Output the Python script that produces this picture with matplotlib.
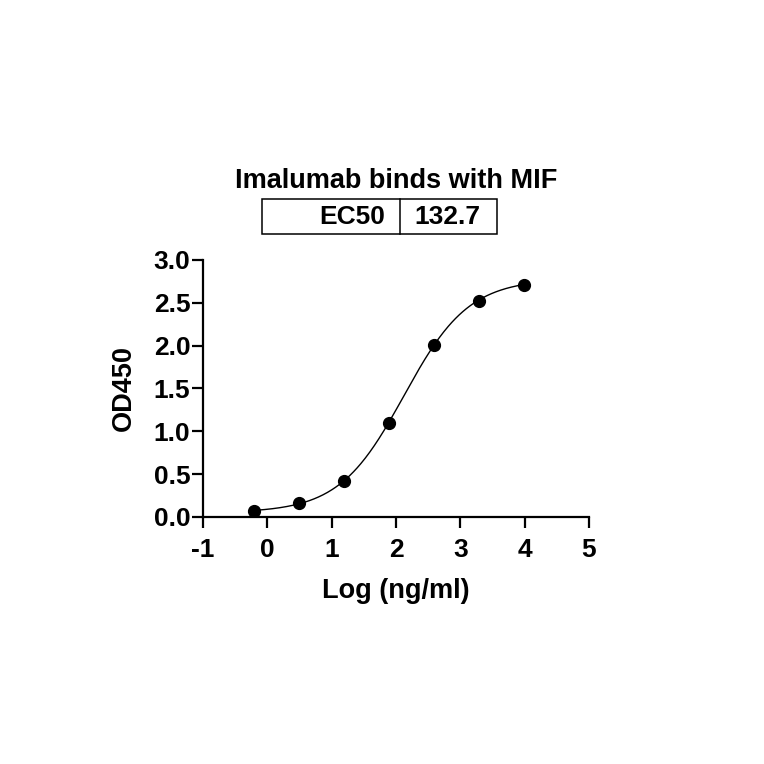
import numpy as np
import matplotlib.pyplot as plt
from matplotlib.patches import Rectangle

plt.rcParams['font.family'] = ['Liberation Sans', 'DejaVu Sans']
plt.rcParams['font.weight'] = 'bold'

# measured points
log_conc = [-0.20, 0.49, 1.19, 1.89, 2.59, 3.29, 3.99]
od450 = [0.07, 0.16, 0.425, 1.10, 2.01, 2.52, 2.71]

# 4PL fit parameters
ec50 = 132.7
bottom = 0.05
top = 2.78
hill = 0.86

x_fit = np.linspace(min(log_conc), max(log_conc), 300)
y_fit = bottom + (top - bottom) / (1 + 10 ** ((np.log10(ec50) - x_fit) * hill))

fig = plt.figure(figsize=(7.64, 7.64), dpi=100)
ax = fig.add_axes([0.2657, 0.3233, 0.5052, 0.3364])

ax.plot(x_fit, y_fit, color='black', lw=1.0)
ax.plot(log_conc, od450, 'o', color='black', markersize=8.5)

ax.set_xlim(-1, 5)
ax.set_ylim(0, 3.0)
ax.set_xticks(range(-1, 6))
ax.set_xticklabels([str(v) for v in range(-1, 6)])
ax.set_yticks([0.0, 0.5, 1.0, 1.5, 2.0, 2.5, 3.0])
ax.set_yticklabels(['0.0', '0.5', '1.0', '1.5', '2.0', '2.5', '3.0'])
for s in ['top', 'right']:
    ax.spines[s].set_visible(False)
for s in ['left', 'bottom']:
    ax.spines[s].set_linewidth(1.6)
ax.tick_params(width=1.6, length=8, labelsize=19)
ax.tick_params(axis='y', pad=1)
ax.tick_params(axis='x', pad=7)
for lab in ax.get_xticklabels() + ax.get_yticklabels():
    lab.set_fontweight('bold')
ax.set_xlabel('Log (ng/ml)', fontsize=19.5, fontweight='bold', labelpad=12)
ax.set_ylabel('OD450', fontsize=19.5, fontweight='bold', labelpad=12)

# title and EC50 table
fig.text(396 / 764, 1 - 188 / 764, 'Imalumab binds with MIF', ha='center', va='baseline',
         fontsize=19.5, fontweight='bold')
fig.add_artist(Rectangle((262 / 764, 1 - 234 / 764), 235 / 764, 35 / 764,
                         transform=fig.transFigure, fill=False, lw=1.1, color='black'))
fig.add_artist(plt.Line2D([400 / 764, 400 / 764], [1 - 234 / 764, 1 - 199 / 764],
                          transform=fig.transFigure, lw=1.1, color='black'))
fig.text(385 / 764, 1 - 216.5 / 764, 'EC50', ha='right', va='center',
         fontsize=19, fontweight='bold')
fig.text(447 / 764, 1 - 216.5 / 764, f'{ec50}', ha='center', va='center',
         fontsize=19, fontweight='bold')

fig.savefig('out.png', dpi=100)
